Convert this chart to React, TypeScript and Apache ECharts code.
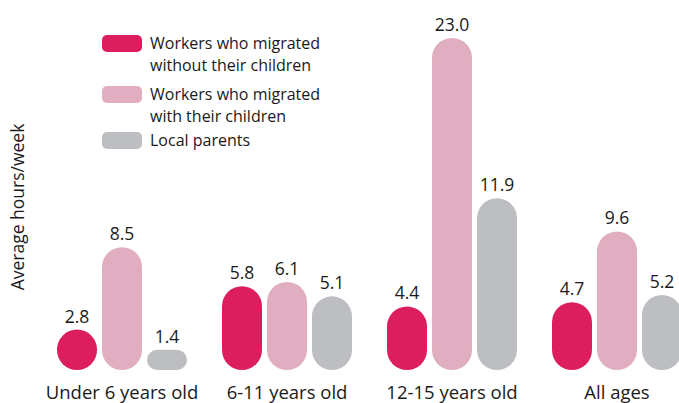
import React, { useEffect, useRef } from "react";
import * as echarts from "echarts";

const categories = ["Under 6 years old", "6-11 years old", "12-15 years old", "All ages"];
const seriesNames = [
  "Workers who migrated\nwithout their children",
  "Workers who migrated\nwith their children",
  "Local parents",
];
const withoutChildren = [2.8, 5.8, 4.4, 4.7];
const withChildren = [8.5, 6.1, 23.0, 9.6];
const localParents = [1.4, 5.1, 11.9, 5.2];
const colors = ["#DC1E5E", "#E0AEC0", "#BDBEC2"];
const yAxisTitle = "Average hours/week";

const FONT = "'Open Sans', sans-serif";

export default function App() {
  const ref = useRef<HTMLDivElement>(null);
  useEffect(() => {
    document.body.style.margin = "0";
    const chart = echarts.init(ref.current!, null, { renderer: "svg" });
    const data = [withoutChildren, withChildren, localParents];
    const legendTops = [35, 86, 132];
    const legendGraphics: any[] = [];
    seriesNames.forEach((n, i) => {
      legendGraphics.push({
        type: "rect",
        left: 102,
        top: legendTops[i],
        shape: { width: 40, height: 17, r: 5 },
        style: { fill: colors[i] },
      });
      legendGraphics.push({
        type: "text",
        left: 150,
        top: legendTops[i] - 3,
        style: {
          text: n,
          font: `16px ${FONT}`,
          fill: "#1a1a1a",
          lineHeight: 22,
        },
      });
    });
    chart.setOption({
      animation: false,
      grid: { left: 39.5, right: 0.5, top: 9, bottom: 33 },
      xAxis: {
        type: "category",
        data: categories,
        axisLine: { show: false },
        axisTick: { show: false },
        axisLabel: {
          interval: 0,
          fontFamily: FONT,
          fontSize: 18.5,
          color: "#1a1a1a",
          margin: 12,
        },
      },
      yAxis: {
        type: "value",
        min: 0,
        max: 25,
        show: false,
      },
      graphic: [
        {
          type: "text",
          x: 17,
          y: 207,
          rotation: Math.PI / 2,
          style: {
            text: yAxisTitle,
            font: `17.5px ${FONT}`,
            fill: "#1a1a1a",
            align: "center",
            verticalAlign: "middle",
          },
        },
        ...legendGraphics,
      ],
      series: data.map((d, i) => ({
        type: "bar",
        name: seriesNames[i],
        data: d,
        barWidth: 40,
        barGap: "12.5%",
        itemStyle: { color: colors[i], borderRadius: 20 },
        label: {
          show: true,
          position: "top",
          distance: 5,
          fontFamily: FONT,
          fontSize: 17.5,
          color: "#1a1a1a",
          formatter: (p: any) => Number(p.value).toFixed(1),
        },
      })),
    });
    return () => chart.dispose();
  }, []);
  return (
    <div style={{ width: 679, height: 403, overflow: "hidden" }}>
      <div ref={ref} style={{ width: 700, height: 403 }} />
    </div>
  );
}
